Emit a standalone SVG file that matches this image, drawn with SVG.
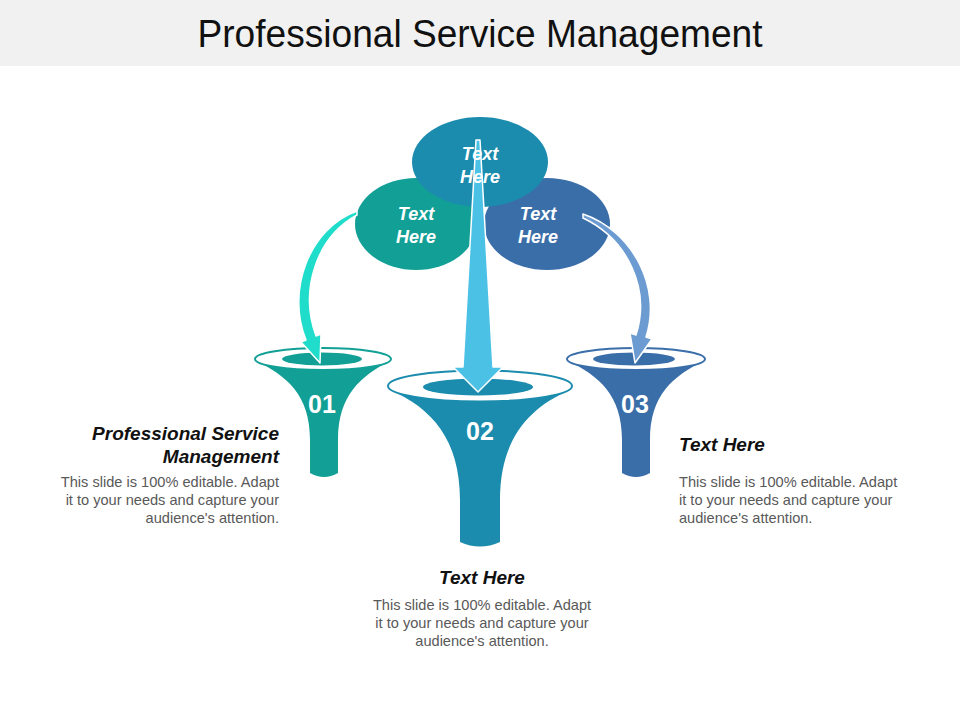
<svg xmlns="http://www.w3.org/2000/svg" width="960" height="720" viewBox="0 0 960 720">
<style>
.title{font-family:"Liberation Sans",Arial,sans-serif;font-size:38px;fill:#111;}
.lbl{font-family:"Liberation Sans",Arial,sans-serif;font-size:18px;font-weight:bold;font-style:italic;fill:#fff;text-anchor:middle;}
.num{font-family:"Liberation Sans",Arial,sans-serif;font-size:25px;font-weight:bold;fill:#fff;text-anchor:middle;}
.head{font-family:"Liberation Sans",Arial,sans-serif;font-size:19px;font-weight:bold;font-style:italic;fill:#111;}
.body{font-family:"Liberation Sans",Arial,sans-serif;font-size:14.6px;fill:#595959;}
.rim{fill:#fff;stroke-width:2;}
.arrow{stroke:#fff;stroke-width:1.5;stroke-linejoin:round;}
</style>
<rect x="0" y="0" width="960" height="720" fill="#fff"/>
<rect x="0" y="0" width="960" height="66" fill="#f1f1f1"/>
<text class="title" x="480" y="47" text-anchor="middle" textLength="565" lengthAdjust="spacingAndGlyphs">Professional Service Management</text>

<g id="circle-left">
<ellipse cx="416" cy="224" rx="61" ry="46" fill="#12a096"/>
<text class="lbl" x="416" y="220">Text</text>
<text class="lbl" x="416" y="243">Here</text>
</g>
<g id="circle-right">
<ellipse cx="547" cy="224" rx="63" ry="46" fill="#3a6ea9"/>
<text class="lbl" x="538" y="220">Text</text>
<text class="lbl" x="538" y="243">Here</text>
</g>
<g id="circle-top">
<ellipse cx="480" cy="162" rx="68" ry="45" fill="#1b8cae"/>
</g>

<g id="funnel-01">
<path d="M256,361 C287,376 310,395 310,440 L310,473 Q324,481 338,473 L338,440 C338,395 361,376 390,361 Z" fill="#12a096"/>
<ellipse class="rim" cx="323" cy="359" rx="68" ry="11" stroke="#12a096"/>
<ellipse cx="322" cy="359" rx="40" ry="6.5" fill="#12a096"/>
<text class="num" x="322" y="413">01</text>
</g>
<g id="funnel-02">
<path d="M390,390 C432,408 460,440 460,500 L460,542 Q480,551 500,542 L500,500 C500,440 528,408 570,390 Z" fill="#1b8cae"/>
<ellipse class="rim" cx="480" cy="386" rx="92" ry="15.5" stroke="#1b8cae"/>
<ellipse cx="478" cy="387" rx="55" ry="8.5" fill="#1b8cae"/>
<text class="num" x="480" y="440">02</text>
</g>
<g id="funnel-03">
<path d="M568,361 C599,376 622,395 622,440 L622,473 Q636,481 650,473 L650,440 C650,395 673,376 704,361 Z" fill="#3a6ea9"/>
<ellipse class="rim" cx="636" cy="359" rx="69" ry="11" stroke="#3a6ea9"/>
<ellipse cx="634" cy="359" rx="41" ry="6.5" fill="#3a6ea9"/>
<text class="num" x="635" y="413">03</text>
</g>

<g id="connectors">
<path class="arrow" d="M357,211 C309,228 286,291 306,340 L301,342 L320,363 L321,334 L316,336 C299,289 317,237 357,215 Z" fill="#1fdccb"/>
<path class="arrow" d="M583,214 C633,231 662,288 646,337 L652,339 L635,363 L630,333 L636,335 C651,288 627,239 583,218 Z" fill="#6c9bd2"/>
<path class="arrow" d="M476,140 L480,140 L493,367 L503,367 L478,392 L453,367 L463,367 Z" fill="#4bc1e6"/>
</g>

<g id="circle-top-label">
<text class="lbl" x="480" y="160">Text</text>
<text class="lbl" x="480" y="183">Here</text>
</g>

<g id="text-01">
<text class="head" x="279" y="440" text-anchor="end">Professional Service</text>
<text class="head" x="279" y="463" text-anchor="end">Management</text>
<text class="body" x="279" y="487" text-anchor="end">This slide is 100% editable.  Adapt</text>
<text class="body" x="279" y="505" text-anchor="end">it to your needs and capture your</text>
<text class="body" x="279" y="523" text-anchor="end">audience's attention.</text>
</g>
<g id="text-02">
<text class="head" x="482" y="584" text-anchor="middle">Text Here</text>
<text class="body" x="482" y="610" text-anchor="middle">This slide is 100% editable.  Adapt</text>
<text class="body" x="482" y="628" text-anchor="middle">it to your needs and capture your</text>
<text class="body" x="482" y="646" text-anchor="middle">audience's attention.</text>
</g>
<g id="text-03">
<text class="head" x="679" y="451">Text Here</text>
<text class="body" x="679" y="487">This slide is 100% editable.  Adapt</text>
<text class="body" x="679" y="505">it to your needs and capture your</text>
<text class="body" x="679" y="523">audience's attention.</text>
</g>
</svg>
